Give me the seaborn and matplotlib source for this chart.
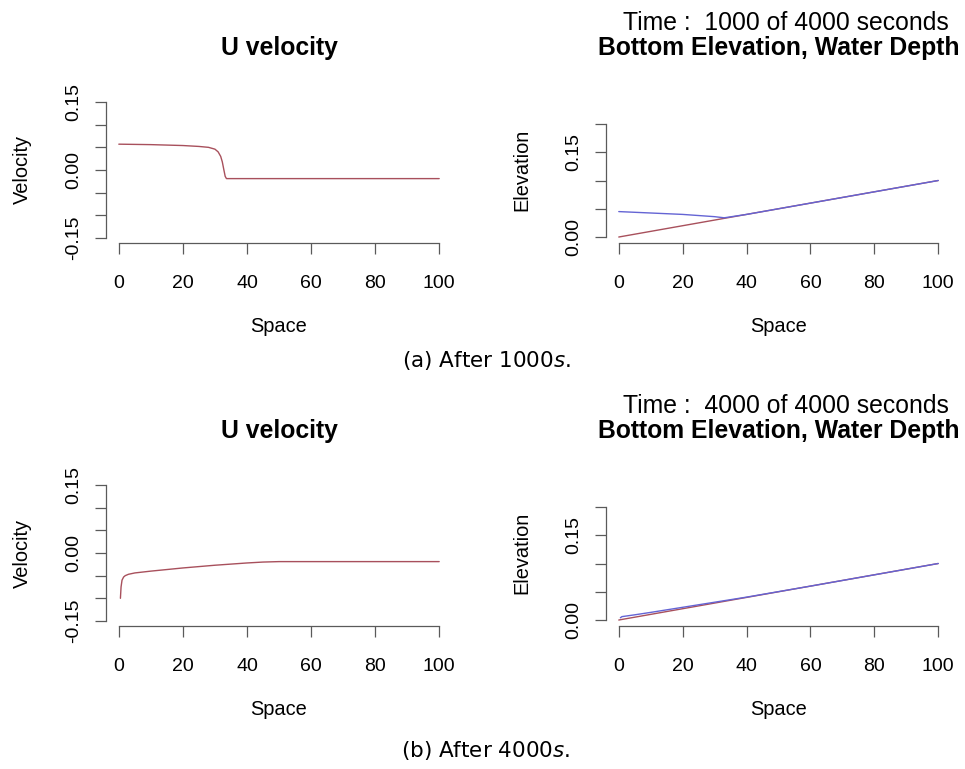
import matplotlib
matplotlib.use("Agg")
import matplotlib.pyplot as plt
import seaborn as sns

# velocity profiles
u_space_1000 = [0, 5, 10, 20, 25, 28, 30, 31, 31.8, 32.3, 32.8, 33.2, 33.6, 40, 60, 80, 100]
u_vel_1000 = [0.057, 0.0565, 0.056, 0.054, 0.052, 0.050, 0.046, 0.040, 0.030, 0.018, 0.000, -0.014, -0.019, -0.019, -0.019, -0.019, -0.019]

u_space_4000 = [0.5, 0.7, 1, 1.5, 2, 3, 5, 10, 20, 30, 40, 45, 50, 60, 80, 100]
u_vel_4000 = [-0.100, -0.075, -0.060, -0.053, -0.050, -0.047, -0.044, -0.040, -0.033, -0.027, -0.022, -0.020, -0.019, -0.019, -0.019, -0.019]

# bottom elevation (red) and water surface (blue)
bed_space = [0, 20, 40, 60, 80, 100]
bed_elev = [0.0, 0.02, 0.04, 0.06, 0.08, 0.10]

surf_space_1000 = [0, 10, 20, 30, 33, 40, 60, 80, 100]
surf_elev_1000 = [0.045, 0.0425, 0.040, 0.036, 0.034, 0.04, 0.06, 0.08, 0.10]

surf_space_4000 = [0.5, 1, 2, 5, 10, 20, 30, 40, 60, 80, 100]
surf_elev_4000 = [0.004, 0.006, 0.0068, 0.0092, 0.0135, 0.0225, 0.0315, 0.0405, 0.060, 0.080, 0.10]

vel_ticks = [-0.15, -0.10, -0.05, 0.0, 0.05, 0.10, 0.15]
vel_labels = ["-0.15", "", "", "0.00", "", "", "0.15"]
elev_ticks = [0.0, 0.05, 0.10, 0.15, 0.20]
elev_labels = ["0.00", "", "", "0.15", ""]
x_ticks = [0, 20, 40, 60, 80, 100]

times = [1000, 4000]
captions = [r"(a) After $1000s$.", r"(b) After $4000s$."]

RED = "#a8505c"
BLUE = "#6464d4"
AXC = "#5a5a5a"

sns.set_style("ticks")
plt.rcParams["font.family"] = ["Liberation Sans", "DejaVu Sans"]
plt.rcParams["text.color"] = "black"
plt.rcParams["axes.labelcolor"] = "black"
plt.rcParams["xtick.labelcolor"] = "black"
plt.rcParams["ytick.labelcolor"] = "black"

W, H = 965, 769
fig = plt.figure(figsize=(W / 100, H / 100), dpi=100)


def box(left, top, right, bottom):
    return [left / W, 1 - bottom / H, (right - left) / W, (bottom - top) / H]


def style(ax, yticks, ylabels, ylab):
    ax.set_xlim(-4, 104)
    ax.set_xticks(x_ticks)
    ax.set_yticks(yticks)
    sns.despine(ax=ax, trim=True)
    ax.set_xticklabels([str(t) for t in x_ticks])
    ax.set_yticklabels(ylabels, rotation=90, va="center")
    ax.tick_params(direction="out", length=8, width=0.9, color=AXC, labelsize=14, pad=9)
    ax.tick_params(axis="x", pad=15)
    for s in ("left", "bottom"):
        ax.spines[s].set_color(AXC)
        ax.spines[s].set_linewidth(0.9)
    ax.set_xlabel("Space", fontsize=14.4)
    ax.set_ylabel(ylab, fontsize=14.4)
    ax.xaxis.set_label_coords(0.5, -0.5)
    ax.yaxis.set_label_coords(-0.215, 0.5)


vel_data = [(u_space_1000, u_vel_1000), (u_space_4000, u_vel_4000)]
surf_data = [(surf_space_1000, surf_elev_1000), (surf_space_4000, surf_elev_4000)]

for row in range(2):
    off = 383 * row

    # left: U velocity
    ax = fig.add_axes(box(106, 96.6 + off, 452, 243.4 + off))
    xs, ys = vel_data[row]
    sns.lineplot(x=xs, y=ys, ax=ax, color=RED, linewidth=1.0, estimator=None, sort=False)
    ax.set_ylim(-0.162, 0.162)
    style(ax, vel_ticks, vel_labels, "Velocity")
    ax.set_title("U velocity", fontsize=17.8, fontweight="bold", pad=30)

    # right: bottom elevation and water depth
    ax2 = fig.add_axes(box(606, 96.6 + off, 951, 243.4 + off))
    sns.lineplot(x=bed_space, y=bed_elev, ax=ax2, color=RED, linewidth=1.0, estimator=None, sort=False)
    xs, ys = surf_data[row]
    sns.lineplot(x=xs, y=ys, ax=ax2, color=BLUE, linewidth=1.0, estimator=None, sort=False)
    ax2.set_ylim(-0.0113, 0.2485)
    style(ax2, elev_ticks, elev_labels, "Elevation")
    ax2.set_title("Bottom Elevation, Water Depth", fontsize=17.8, fontweight="bold", pad=30)
    fig.text(786 / W, 1 - (30 + off) / H, f"Time :  {times[row]} of 4000 seconds",
             ha="center", va="baseline", fontsize=17.8)

    fig.text(486 / W, 1 - (360 + 390 * row) / H, captions[row], ha="center", va="center",
             fontsize=15.5, family=["DejaVu Sans"])

fig.savefig("out.png", dpi=100)
